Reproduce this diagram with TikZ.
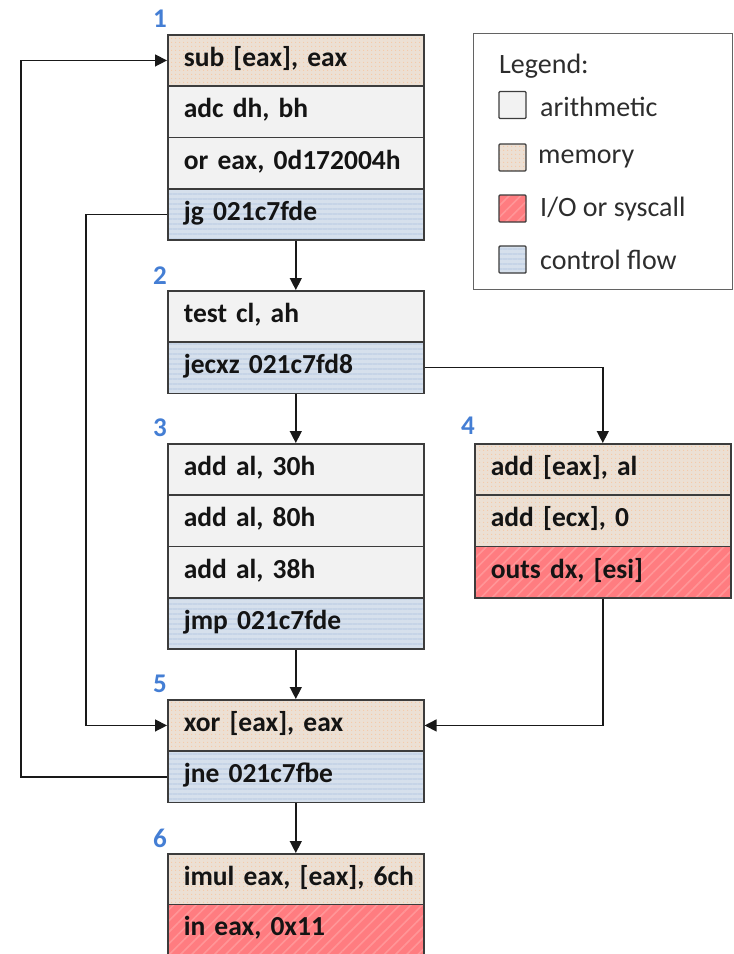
\documentclass[tikz,border=0pt]{standalone}
\usepackage{fontspec}
\setmainfont{Carlito}
\usetikzlibrary{arrows.meta,patterns.meta}
\definecolor{bordercol}{RGB}{60,60,60}
\definecolor{linecol}{RGB}{25,25,25}
\definecolor{arithcol}{RGB}{242,242,242}
\definecolor{memcol}{RGB}{236,224,212}
\definecolor{memdot}{RGB}{246,200,165}
\definecolor{iocol}{RGB}{255,124,128}
\definecolor{iostripe}{RGB}{255,150,152}
\definecolor{ctrlcol}{RGB}{214,224,236}
\definecolor{ctrlstripe}{RGB}{198,212,231}
\definecolor{labelblue}{RGB}{68,126,212}
\definecolor{txtcol}{RGB}{20,20,20}
\definecolor{legtxt}{RGB}{45,45,45}
\begin{document}
\begin{tikzpicture}[x=1pt,y=-1pt,
  row/.style={draw=bordercol, line width=1.6pt, anchor=north west,
    minimum height=51.3pt, text width=224pt, inner xsep=16pt, inner ysep=0pt,
    align=left, text=txtcol, font=\fontsize{27.5}{30}\selectfont\bfseries,
    text height=18pt, text depth=6pt},
  arith/.style={fill=arithcol},
  mem/.style={preaction={fill=memcol}, pattern={Dots[distance=4pt, radius=0.75pt]}, pattern color=memdot},
  io/.style={preaction={fill=iocol}, pattern={Lines[angle=45, distance=8pt, line width=1.6pt]}, pattern color=iostripe},
  ctrl/.style={preaction={fill=ctrlcol}, pattern={Lines[angle=0, distance=5pt, line width=1.6pt]}, pattern color=ctrlstripe},
  blocklabel/.style={text=labelblue, font=\fontsize{27}{30}\selectfont\bfseries, inner sep=0pt},
  conn/.style={draw=linecol, line width=1.4pt, -{Triangle[length=12pt, width=12pt]}},
  swatch/.style={draw=bordercol, line width=1.4pt, minimum size=27pt, inner sep=0pt, rounded corners=1pt},
  legtext/.style={anchor=west, text=legtxt, font=\fontsize{28}{30}\selectfont, inner sep=0pt}
]
\useasboundingbox (0,0) rectangle (734,954);

% Block 1
\node[row, mem]   (b1a) at (167,34) {sub [eax], eax};
\node[row, arith] (b1b) at (167,85.3) {adc dh, bh};
\node[row, arith] (b1c) at (167,136.6) {or eax, 0d172004h};
\node[row, ctrl]  (b1d) at (167,187.9) {jg 021c7fde};
\node[blocklabel] (l1) at (160,19) {1};

% Block 2
\node[row, arith] (b2a) at (167,290) {test cl, ah};
\node[row, ctrl]  (b2b) at (167,341.3) {jecxz 021c7fd8};
\node[blocklabel] (l2) at (160,276) {2};

% Block 3
\node[row, arith] (b3a) at (167,443) {add al, 30h};
\node[row, arith] (b3b) at (167,494.3) {add al, 80h};
\node[row, arith] (b3c) at (167,545.6) {add al, 38h};
\node[row, ctrl]  (b3d) at (167,596.9) {jmp 021c7fde};
\node[blocklabel] (l3) at (160,428) {3};

% Block 4
\node[row, mem]   (b4a) at (474,443) {add [eax], al};
\node[row, mem]   (b4b) at (474,494.3) {add [ecx], 0};
\node[row, io]    (b4c) at (474,545.6) {outs dx, [esi]};
\node[blocklabel] (l4) at (468,426) {4};

% Block 5
\node[row, mem]   (b5a) at (167,699) {xor [eax], eax};
\node[row, ctrl]  (b5b) at (167,750.5) {jne 021c7fbe};
\node[blocklabel] (l5) at (160,684) {5};

% Block 6
\node[row, mem]   (b6a) at (167,853) {\mbox{imul eax, [eax], 6ch}};
\node[row, io]    (b6b) at (167,903.5) {in eax, 0x11};
\node[blocklabel] (l6) at (160,838) {6};

% Legend
\node[draw=bordercol!80, line width=1.4pt, anchor=north west, minimum width=259pt, minimum height=256pt, inner sep=0pt] (legend) at (473,33) {};
\node[legtext] (legt) at (499,66) {Legend:};
\node[swatch, arith] (s1) at (512.5,105) {};
\node[swatch, mem]   (s2) at (512.5,157.5) {};
\node[swatch, io]    (s3) at (512.5,208.5) {};
\node[swatch, ctrl]  (s4) at (512.5,259.5) {};
\node[legtext] (t1) at (540,107) {arithmetic};
\node[legtext] (t2) at (538,159) {memory};
\node[legtext] (t3) at (540,209) {I/O or syscall};
\node[legtext] (t4) at (540,260) {control flow};

% Connectors
\coordinate (jgx) at (86,0);
\coordinate (loopx) at (21,0);
\draw[conn] (b1d.south) -- (b2a.north);
\draw[conn] (b2b.south) -- (b3a.north);
\draw[conn] (b2b.east) -| (b4a.north);
\draw[conn] (b3d.south) -- (b5a.north);
\draw[conn] (b4c.south) |- (b5a.east);
\draw[conn] (b1d.west) -- (b1d.west -| jgx) |- (b5a.west);
\draw[conn] (b5b.west) -- (b5b.west -| loopx) |- (b1a.west);
\draw[conn] (b5b.south) -- (b6a.north);
\end{tikzpicture}
\end{document}
